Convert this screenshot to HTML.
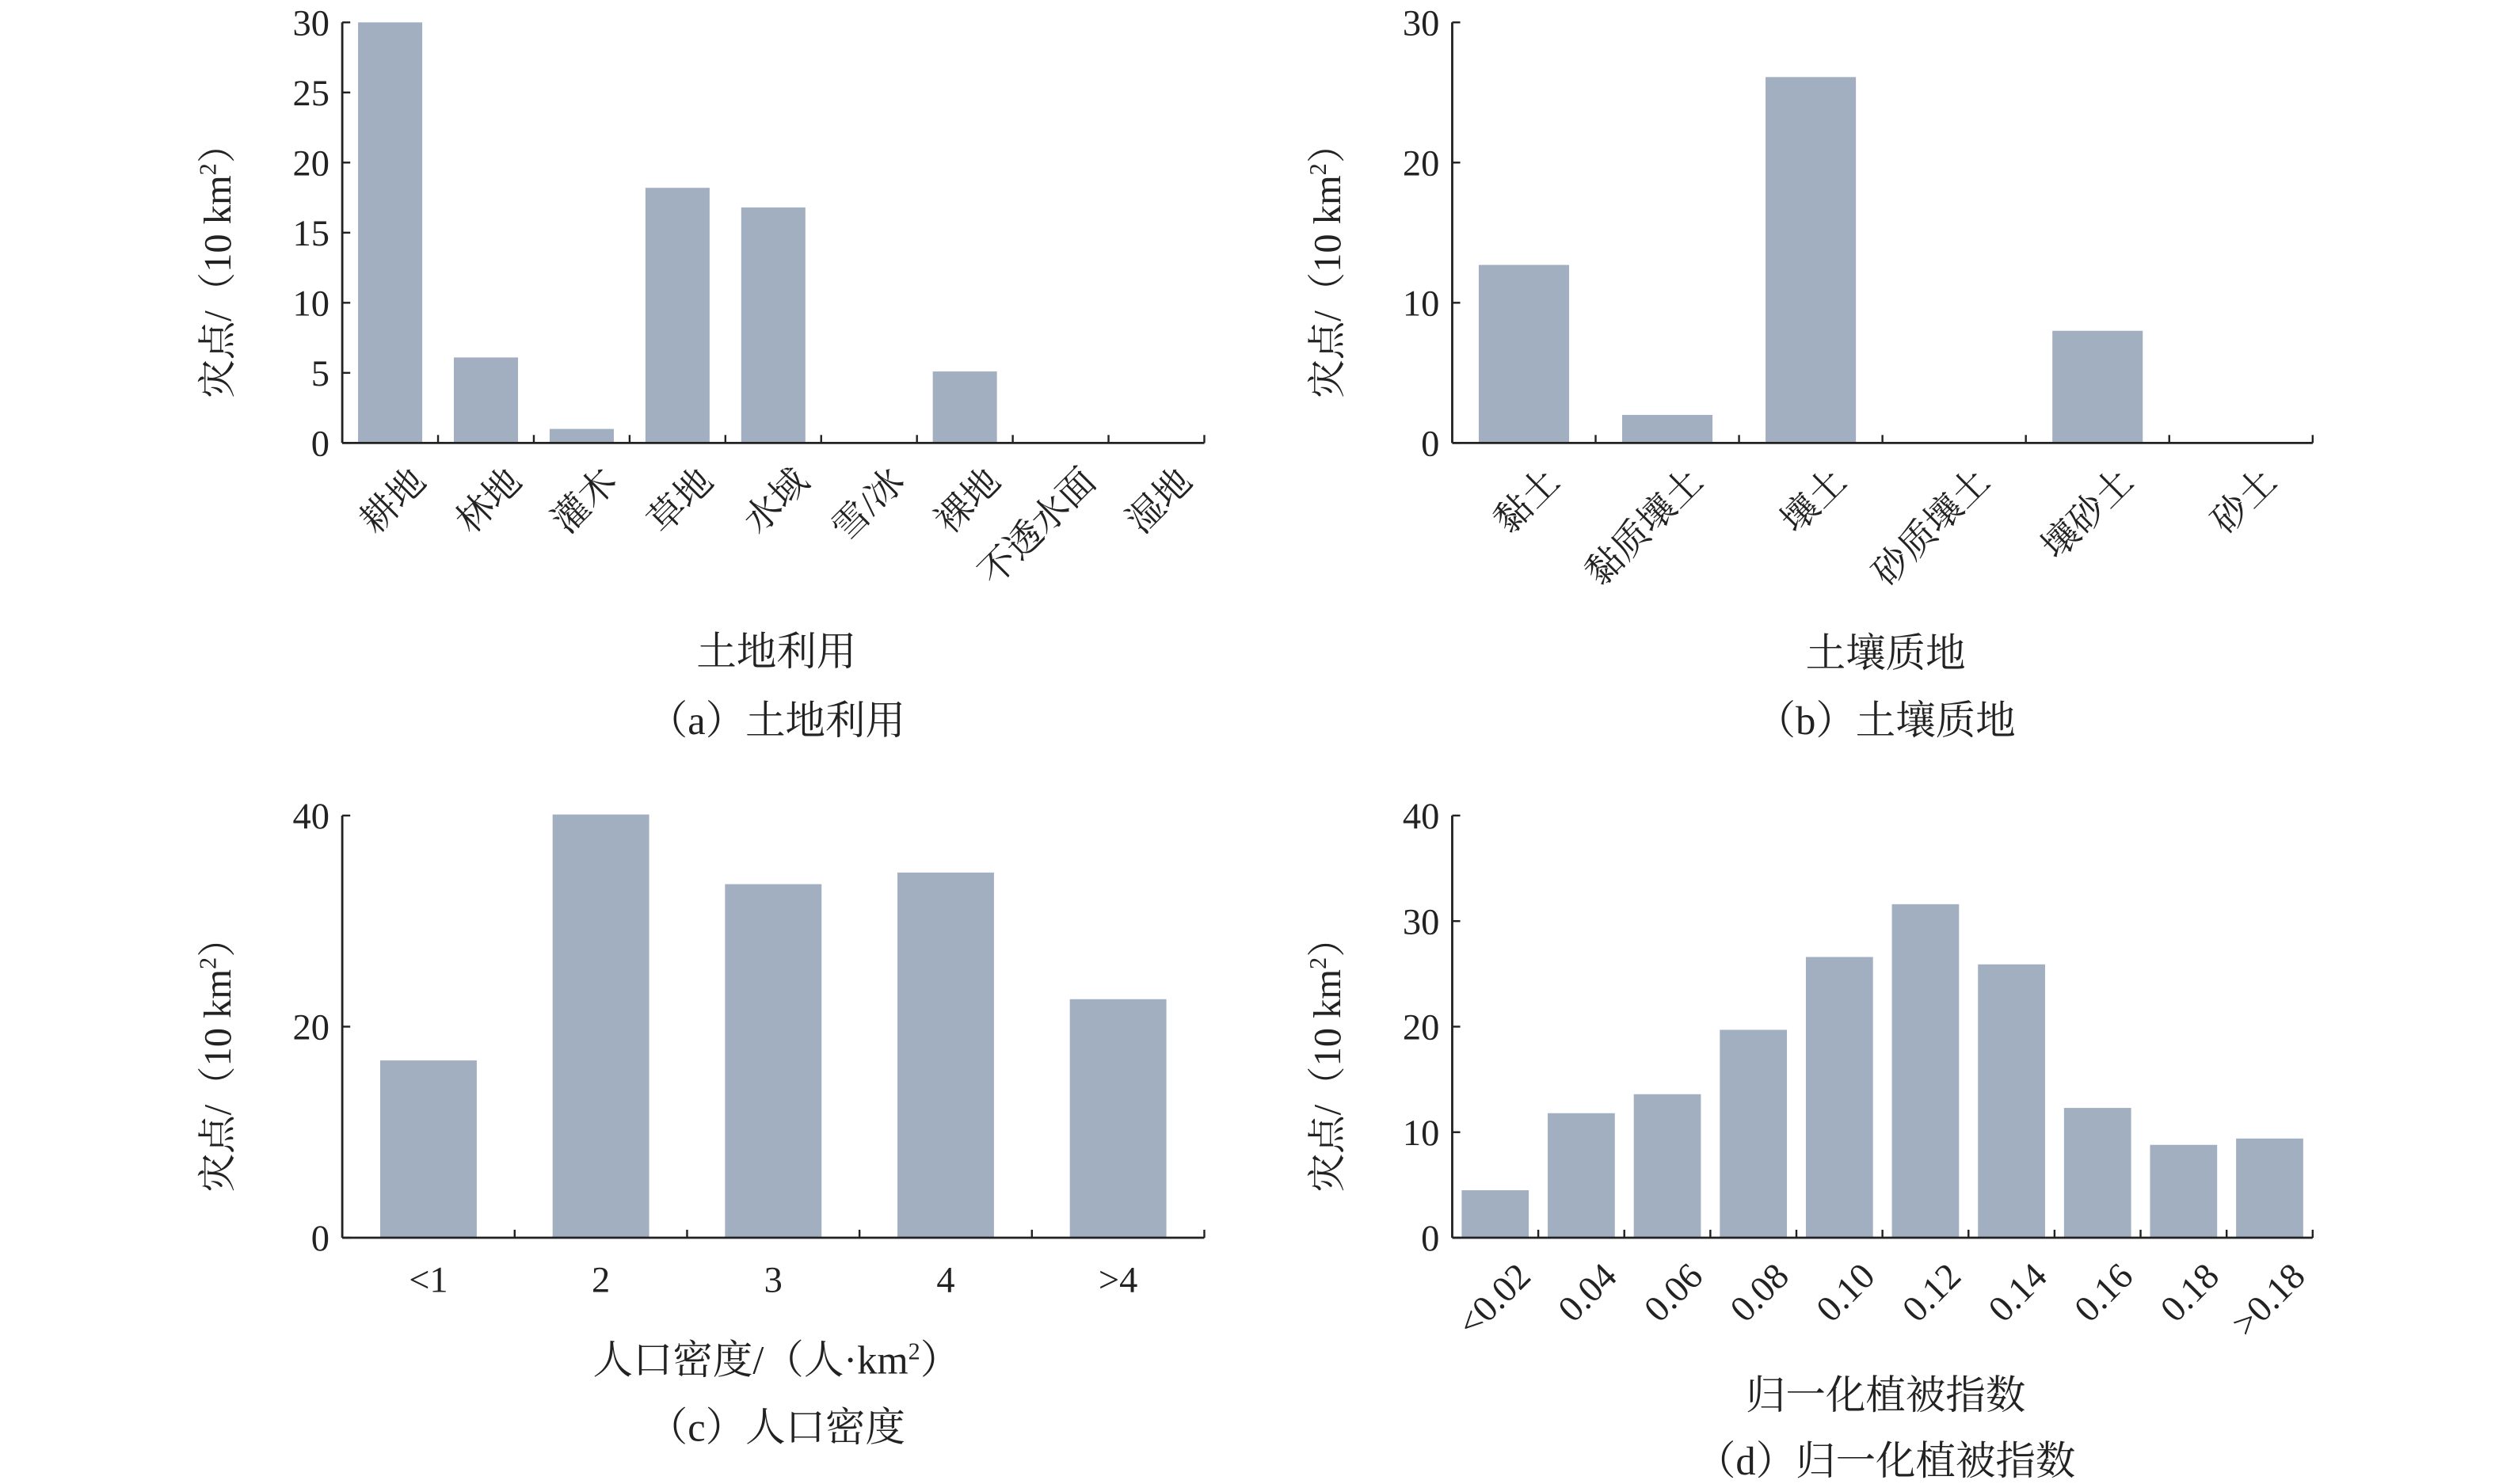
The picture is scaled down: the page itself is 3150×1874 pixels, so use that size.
<!DOCTYPE html>
<html><head><meta charset="utf-8">
<style>
html,body{margin:0;padding:0;background:#fff;}
svg{display:block;}
text{font-family:"Liberation Serif","Noto Serif CJK SC","Noto Sans CJK SC",serif;fill:#222;}
</style></head>
<body>
<svg id="fig" width="3150" height="1874" viewBox="0 0 1560 928" preserveAspectRatio="none" xmlns="http://www.w3.org/2000/svg"></svg>
<script>
// Panel a data
const catsA = ["耕地","林地","灌木","草地","水域","雪/冰","裸地","不透水面","湿地"];
const valsA = [30, 6.1, 1.0, 18.2, 16.8, 0, 5.1, 0, 0];
const ticksA = [0,5,10,15,20,25,30];
// Panel b data
const catsB = ["黏土","黏质壤土","壤土","砂质壤土","壤砂土","砂土"];
const valsB = [12.7, 2.0, 26.1, 0, 8.0, 0];
const ticksB = [0,10,20,30];
// Panel c data
const catsC = ["<1","2","3","4",">4"];
const valsC = [16.8, 40.1, 33.5, 34.6, 22.6];
const ticksC = [0,20,40];
// Panel d data
const catsD = ["<0.02","0.04","0.06","0.08","0.10","0.12","0.14","0.16","0.18",">0.18"];
const valsD = [4.5, 11.8, 13.6, 19.7, 26.6, 31.6, 25.9, 12.3, 8.8, 9.4];
const ticksD = [0,10,20,30,40];

const NS = "http://www.w3.org/2000/svg";
const svg = document.getElementById("fig");
function mk(tag, attrs, parent){
  const e = document.createElementNS(NS, tag);
  for (const k in attrs) e.setAttribute(k, attrs[k]);
  (parent||svg).appendChild(e);
  return e;
}

function panel(id, cats, vals, ticks, box, barFrac, rotate, xTitle, caption, xTitleY, capY){
  const g = mk("g", {});
  
  
  const x0 = box.x0, x1 = box.x1, yTop = box.yTop, yBot = box.yBot;
  const maxT = ticks[ticks.length-1];
  const yS = v => yBot - (v / maxT) * (yBot - yTop);
  const step = (x1 - x0) / cats.length;
  const xS = i => x0 + step * i;
  // bars
  vals.forEach((v, i) => {
    if (v <= 0) return;
    const w = step * barFrac;
    const r = mk("rect", {x: xS(i) + (step - w) / 2, y: yS(v), width: w, height: yBot - yS(v), fill: "#a2afc1"}, g);
    
    
  });
  // axes
  const ya = mk("line", {x1: x0, y1: yTop, x2: x0, y2: yBot, stroke: "#222", "stroke-width": 1.4}, g);
  
  
  const xa = mk("line", {x1: x0, y1: yBot, x2: x1, y2: yBot, stroke: "#222", "stroke-width": 1.4}, g);
  
  
  for (let i = 1; i <= cats.length; i++) {
    mk("line", {x1: xS(i), y1: yBot, x2: xS(i), y2: yBot - 5, stroke: "#222", "stroke-width": 1.2}, g);
  }
  ticks.forEach(t => {
    mk("line", {x1: x0, y1: yS(t), x2: x0 + 5, y2: yS(t), stroke: "#222", "stroke-width": 1.2}, g);
    const tl = mk("text", {x: x0 - 8, y: yS(t) + 8, "text-anchor": "end", "font-size": 23}, g);
    tl.textContent = t;
    
    
  });
  // category labels
  cats.forEach((c, i) => {
    const cx = xS(i) + step / 2;
    let t;
    if (rotate) {
      const ax = cx + 12, ay = yBot + 14;
      t = mk("text", {x: ax, y: ay, "text-anchor": "end", "font-size": 23, transform: "rotate(-45 " + ax + " " + ay + ")", dy: "0.7em"}, g);
    } else {
      t = mk("text", {x: cx, y: yBot + 34, "text-anchor": "middle", "font-size": 23}, g);
    }
    t.textContent = c;
    
    
  });
  // y axis title
  const ycx = x0 - 70, ycy = (yTop + yBot) / 2 + 18;
  const yt = mk("text", {x: ycx, y: ycy, "text-anchor": "middle", "font-size": 24, transform: "rotate(-90 " + ycx + " " + ycy + ")"}, g);
  yt.innerHTML = '灾点/（10 km<tspan font-size="15" dy="-9">2</tspan><tspan dy="9">）</tspan>';
  
  
  const midX = (x0 + x1) / 2 + 2;
  const xt = mk("text", {x: midX, y: xTitleY, "text-anchor": "middle", "font-size": 25}, g);
  xt.innerHTML = xTitle;
  
  
  const cp = mk("text", {x: midX, y: capY, "text-anchor": "middle", "font-size": 25}, g);
  cp.textContent = caption;
  
  
}

panel("a", catsA, valsA, ticksA, {x0: 214, x1: 753, yTop: 14, yBot: 277}, 0.67, true, "土地利用", "（a）土地利用", 416, 459);
panel("b", catsB, valsB, ticksB, {x0: 908, x1: 1446, yTop: 14, yBot: 277}, 0.63, true, "土壤质地", "（b）土壤质地", 417, 459);
panel("c", catsC, valsC, ticksC, {x0: 214, x1: 753, yTop: 510, yBot: 774}, 0.56, false, "人口密度/（人·km<tspan font-size=\"15\" dy=\"-9\">2</tspan><tspan dy=\"9\">）</tspan>", "（c）人口密度", 859, 901);
panel("d", catsD, valsD, ticksD, {x0: 908, x1: 1446, yTop: 510, yBot: 774}, 0.78, true, "归一化植被指数", "（d）归一化植被指数", 881, 922);
</script>
</body></html>
